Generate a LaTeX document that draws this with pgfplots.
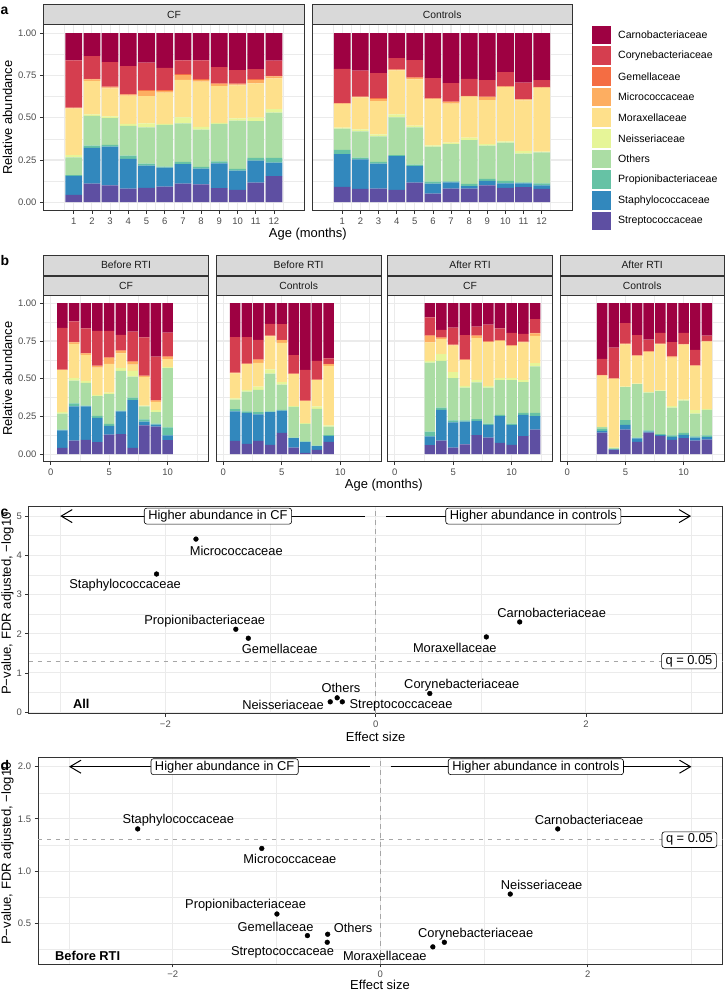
\documentclass[border=0pt]{standalone}
\usepackage{fontspec}
\setmainfont{Liberation Sans}
\usepackage{pgfplots}
\pgfplotsset{compat=1.18}
\usepackage{pgfplotstable}
\usetikzlibrary{arrows.meta}
\definecolor{cK}{HTML}{9E0142}
\definecolor{cC}{HTML}{D53E4F}
\definecolor{cG}{HTML}{F46D43}
\definecolor{cMi}{HTML}{FDAE61}
\definecolor{cM}{HTML}{FEE08B}
\definecolor{cN}{HTML}{E6F598}
\definecolor{cO}{HTML}{ABDDA4}
\definecolor{cP}{HTML}{66C2A5}
\definecolor{cSt}{HTML}{3288BD}
\definecolor{cS}{HTML}{5E4FA2}
\definecolor{gray20}{HTML}{333333}
\definecolor{gray30}{HTML}{4D4D4D}
\definecolor{gray92}{HTML}{EBEBEB}
\definecolor{gray85}{HTML}{D9D9D9}
\definecolor{gray10}{HTML}{1A1A1A}
\definecolor{dashg}{HTML}{A6A6A6}
\newcommand\fs[1]{\fontsize{#1}{#1}\selectfont}

% cumulative tops: s=Strepto, st=Staphylo, p=Propioni, o=Others, n=Neisseria, m=Moraxella, mi=Micrococc, g=Gemella, c=Coryne, k=Carno
\pgfplotstableread{
x s st p o n m mi g c k
1 .043 .156 .161 .266 .278 .555 .557 .559 .839 1
2 .110 .321 .335 .510 .520 .718 .726 .730 .864 1
3 .100 .329 .339 .498 .508 .673 .679 .683 .829 1
4 .081 .256 .276 .451 .463 .630 .636 .640 .805 1
5 .085 .217 .228 .443 .467 .628 .659 .663 .825 1
6 .093 .205 .211 .457 .463 .648 .659 .663 .795 1
7 .110 .226 .238 .467 .502 .724 .752 .758 .839 1
8 .106 .199 .209 .429 .445 .713 .722 .728 .839 1
9 .083 .230 .242 .463 .469 .687 .699 .703 .799 1
10 .073 .187 .197 .482 .496 .691 .697 .701 .781 1
11 .116 .246 .262 .480 .500 .703 .722 .728 .787 1
12 .154 .234 .262 .530 .551 .732 .744 .748 .837 1
}\aCF
\pgfplotstableread{
x s st p o n m mi g c k
1 .091 .285 .309 .435 .441 .581 .584 .586 .789 1
2 .079 .254 .264 .419 .431 .620 .623 .625 .778 1
3 .081 .228 .238 .390 .402 .598 .612 .615 .764 1
4 .073 .272 .278 .502 .520 .780 .783 .785 .852 1
5 .116 .213 .222 .443 .453 .726 .736 .738 .841 1
6 .051 .110 .122 .329 .337 .610 .613 .615 .734 1
7 .081 .118 .124 .344 .352 .583 .593 .595 .705 1
8 .081 .096 .108 .368 .382 .624 .627 .629 .730 1
9 .100 .126 .138 .335 .343 .604 .622 .624 .722 1
10 .085 .112 .126 .352 .360 .681 .684 .686 .770 1
11 .089 .112 .118 .287 .303 .602 .608 .610 .707 1
12 .079 .100 .112 .295 .299 .677 .680 .682 .722 1
}\aCo
\pgfplotstableread{
x s st p o n m mi g c k
1 .042 .157 .163 .269 .280 .556 .558 .560 .837 1
2 .090 .316 .336 .488 .503 .731 .740 .744 .879 1
3 .095 .316 .322 .472 .486 .658 .667 .670 .834 1
4 .079 .240 .254 .384 .393 .574 .583 .586 .817 1
5 .130 .188 .200 .397 .408 .598 .638 .641 .817 1
6 .132 .283 .289 .552 .570 .667 .684 .687 .790 1
7 .042 .358 .375 .514 .552 .594 .611 .614 .812 1
8 .190 .216 .230 .316 .322 .512 .517 .520 .773 1
9 .183 .196 .203 .278 .291 .347 .355 .358 .647 1
10 .093 .124 .177 .570 .578 .629 .645 .648 .806 1
}\bBCF
\pgfplotstableread{
x s st p o n m mi g c k
1 .088 .283 .298 .362 .369 .536 .538 .540 .775 1
2 .068 .274 .283 .415 .426 .596 .598 .600 .775 1
3 .088 .263 .278 .426 .448 .605 .625 .628 .757 1
4 .062 .278 .283 .534 .561 .781 .783 .785 .863 1
5 .141 .289 .294 .461 .477 .737 .755 .758 .861 1
6 .044 .106 .110 .313 .318 .530 .532 .534 .656 1
7 .009 .079 .084 .200 .205 .351 .353 .355 .558 1
8 .029 .053 .057 .300 .316 .490 .492 .494 .618 1
9 .082 .119 .126 .183 .190 .585 .596 .599 .634 1
}\bBCo
\pgfplotstableread{
x s st p o n m mi g c k
3 .060 .117 .150 .607 .618 .740 .784 .787 .907 1
4 .090 .294 .309 .618 .662 .762 .770 .773 .823 1
5 .044 .210 .223 .503 .543 .720 .722 .725 .839 1
6 .064 .216 .223 .441 .453 .623 .625 .628 .788 1
7 .126 .221 .232 .475 .492 .768 .784 .787 .845 1
8 .110 .194 .203 .441 .453 .742 .744 .747 .859 1
9 .075 .252 .260 .490 .503 .751 .753 .756 .834 1
10 .062 .192 .203 .490 .503 .717 .719 .722 .804 1
11 .119 .260 .274 .477 .490 .740 .742 .745 .797 1
12 .163 .252 .274 .581 .603 .784 .801 .804 .894 1
}\bACF
\pgfplotstableread{
x s st p o n m mi g c k
3 .143 .155 .168 .179 .181 .521 .523 .525 .631 1
4 .028 .031 .034 .041 .044 .498 .500 .502 .706 1
5 .163 .194 .225 .444 .448 .728 .730 .732 .868 1
6 .082 .104 .110 .464 .468 .651 .653 .655 .788 1
7 .143 .150 .157 .408 .413 .678 .680 .682 .759 1
8 .121 .126 .132 .417 .422 .728 .730 .732 .804 1
9 .095 .115 .124 .309 .318 .640 .647 .650 .742 1
10 .106 .128 .141 .355 .362 .726 .728 .730 .804 1
11 .090 .110 .117 .269 .291 .585 .587 .589 .691 1
12 .097 .113 .124 .294 .300 .746 .748 .750 .786 1
}\bACo

% stacked segments, bottom to top (heights = differences of the cumulative tops)
\newcommand\stack[1]{%
\addplot[fill=cS,draw=none] table[x=x,y=s]{#1};
\addplot[fill=cSt,draw=none] table[x=x,y expr=\thisrow{st}-\thisrow{s}]{#1};
\addplot[fill=cP,draw=none] table[x=x,y expr=\thisrow{p}-\thisrow{st}]{#1};
\addplot[fill=cO,draw=none] table[x=x,y expr=\thisrow{o}-\thisrow{p}]{#1};
\addplot[fill=cN,draw=none] table[x=x,y expr=\thisrow{n}-\thisrow{o}]{#1};
\addplot[fill=cM,draw=none] table[x=x,y expr=\thisrow{m}-\thisrow{n}]{#1};
\addplot[fill=cMi,draw=none] table[x=x,y expr=\thisrow{mi}-\thisrow{m}]{#1};
\addplot[fill=cG,draw=none] table[x=x,y expr=\thisrow{g}-\thisrow{mi}]{#1};
\addplot[fill=cC,draw=none] table[x=x,y expr=\thisrow{c}-\thisrow{g}]{#1};
\addplot[fill=cK,draw=none] table[x=x,y expr=\thisrow{k}-\thisrow{c}]{#1};
}

\tikzset{
 lab/.style={font=\fs{12.9}, inner sep=0pt},
 lbox/.style={font=\fs{12.9}, draw=black, line width=0.6bp, rounded corners=2.5bp,
  fill=white, inner xsep=4bp, inner ysep=2bp},
 dsh/.style={dashg, line width=0.9bp, dash pattern=on 4.5bp off 4.5bp},
 arr/.style={black, line width=1bp, -{Straight Barb[length=11bp,width=13bp]}},
}
\pgfplotsset{
 gg/.style={
  scale only axis, anchor=south west,
  axis line style={draw=gray20, line width=0.8bp},
  grid=both,
  major grid style={draw=gray92, line width=1.1bp},
  minor grid style={draw=gray92, line width=0.55bp},
  tick align=outside, xtick pos=left, ytick pos=left,
  major tick length=3.3bp, minor tick length=0pt,
  tick style={draw=gray20, line width=0.8bp},
  tick label style={font=\fs{9.5}, text=gray30},
  /pgf/number format/assume math mode=true,
  clip mode=individual,
 },
 barax/.style={gg, ybar stacked, ymin=-0.05, ymax=1.05,
  ytick={0,0.25,0.5,0.75,1}, yticklabels={0.00,0.25,0.50,0.75,1.00},
  minor ytick={0.125,0.375,0.625,0.875}},
 noy/.style={yticklabels={}, ytick style={draw=none}},
 bpan/.style={barax, width=165.3bp, height=166bp, bar width=0.9,
  xmin=-0.63, xmax=13.5, xtick={0,5,10}, minor xtick={2.5,7.5,12.5}},
 vol/.style={gg, xmin=-3.3, xmax=3.3, xtick={-2,0,2}, xticklabels={−2,0,2},
  minor xtick={-3,-1,1,3}},
}

\begin{document}
\begin{tikzpicture}
\useasboundingbox (0,0) rectangle (725bp,993bp);

% ---------- panel a ----------
\begin{axis}[barax, at={(43.3bp,782.3bp)}, width=261.4bp, height=186bp, bar width=0.92,
  xmin=-0.67, xmax=13.69, xtick={1,...,12}, minor xtick={0.5,1.5,...,12.5}]
\stack{\aCF}
\end{axis}
\begin{axis}[barax, noy, at={(312bp,782.3bp)}, width=260.3bp, height=186bp, bar width=0.92,
  xmin=-0.67, xmax=13.69, xtick={1,...,12}, minor xtick={0.5,1.5,...,12.5}]
\stack{\aCo}
\end{axis}

% ---------- panel b ----------
\begin{axis}[bpan, at={(43.3bp,531.3bp)}]
\stack{\bBCF}
\end{axis}
\begin{axis}[bpan, noy, at={(216bp,531.3bp)}]
\stack{\bBCo}
\end{axis}
\begin{axis}[bpan, noy, at={(387.3bp,531.3bp)}]
\stack{\bACF}
\end{axis}
\begin{axis}[bpan, noy, at={(560bp,531.3bp)}, width=164.3bp]
\stack{\bACo}
\end{axis}

% ---------- panel c ----------
\begin{axis}[vol, at={(28.7bp,279.3bp)}, width=693.9bp, height=207bp,
  ymin=-0.04, ymax=5.24, ytick={0,1,2,3,4,5}, minor ytick={0.5,1.5,2.5,3.5,4.5}]
\addplot[dsh] coordinates {(-3.3,1.301) (3.3,1.301)};
\addplot[dsh] coordinates {(0,-0.04) (0,5.24)};
\addplot[arr] coordinates {(-0.1,5) (-3,5)};
\addplot[arr] coordinates {(0.1,5) (3,5)};
\addplot[only marks, mark=*, mark size=2.4bp, black] coordinates {
(-1.709,4.414) (-2.084,3.523) (-1.330,2.114) (-1.211,1.885) (1.370,2.300)
(1.053,1.918) (0.515,0.475) (-0.366,0.365) (-0.432,0.263) (-0.317,0.263)};
\node[lbox] at (axis cs:-1.5,5) {Higher abundance in CF};
\node[lbox] at (axis cs:1.5,5) {Higher abundance in controls};
\node[lbox] at (axis cs:2.98,1.301) {q = 0.05};
\node[lab] at (axis cs:-1.326,4.10) {Micrococcaceae};
\node[lab] at (axis cs:-2.383,3.25) {Staphylococcaceae};
\node[lab] at (axis cs:-1.626,2.326) {Propionibacteriaceae};
\node[lab] at (axis cs:-0.912,1.62) {Gemellaceae};
\node[lab] at (axis cs:1.674,2.53) {Carnobacteriaceae};
\node[lab] at (axis cs:0.753,1.64) {Moraxellaceae};
\node[lab] at (axis cs:0.819,0.688) {Corynebacteriaceae};
\node[lab] at (axis cs:-0.33,0.628) {Others};
\node[lab] at (axis cs:-0.881,0.178) {Neisseriaceae};
\node[lab] at (axis cs:0.242,0.178) {Streptococcaceae};
\node[lab, font=\bfseries\fs{12.9}] at (axis cs:-2.80,0.22) {All};
\end{axis}

% ---------- panel d ----------
\begin{axis}[vol, at={(37.9bp,29bp)}, width=684.7bp, height=206.7bp,
  ymin=0.11, ymax=2.09, ytick={0.5,1,1.5,2}, yticklabels={0.5,1.0,1.5,2.0},
  minor ytick={0.25,0.75,1.25,1.75}]
\addplot[dsh] coordinates {(-3.3,1.301) (3.3,1.301)};
\addplot[dsh] coordinates {(0,0.11) (0,2.09)};
\addplot[arr] coordinates {(-0.1,2) (-3,2)};
\addplot[arr] coordinates {(0.1,2) (3,2)};
\addplot[only marks, mark=*, mark size=2.4bp, black] coordinates {
(-2.338,1.404) (1.711,1.404) (-1.142,1.217) (1.253,0.780) (-0.996,0.589)
(-0.702,0.382) (-0.507,0.395) (-0.511,0.318) (0.618,0.318) (0.507,0.274)};
\node[lbox] at (axis cs:-1.5,2) {Higher abundance in CF};
\node[lbox] at (axis cs:1.5,2) {Higher abundance in controls};
\node[lbox] at (axis cs:2.98,1.301) {q = 0.05};
\node[lab] at (axis cs:-1.947,1.49) {Staphylococcaceae};
\node[lab] at (axis cs:2.013,1.49) {Carnobacteriaceae};
\node[lab] at (axis cs:-0.871,1.115) {Micrococcaceae};
\node[lab] at (axis cs:1.556,0.863) {Neisseriaceae};
\node[lab] at (axis cs:-1.298,0.672) {Propionibacteriaceae};
\node[lab] at (axis cs:-1.009,0.465) {Gemellaceae};
\node[lab] at (axis cs:-0.262,0.455) {Others};
\node[lab] at (axis cs:-0.942,0.223) {Streptococcaceae};
\node[lab] at (axis cs:0.92,0.40) {Corynebacteriaceae};
\node[lab] at (axis cs:0.044,0.185) {Moraxellaceae};
\node[lab, font=\bfseries\fs{12.9}] at (axis cs:-2.82,0.19) {Before RTI};
\end{axis}

% ---------- annotations ----------
\begin{scope}[x=1bp,y=1bp]
% strips a
\foreach \xa/\xb/\t in {43.3/304.7/CF, 312/572.3/Controls} {
  \draw[gray20, line width=0.8bp, fill=gray85] (\xa,968.3) rectangle (\xb,988.7);
  \node[font=\fs{10.4}, text=gray10] at ({(\xa+\xb)/2},978.5) {\t};
}
% strips b
\foreach \xa/\xb/\ta/\tb in {43.3/208.7/Before RTI/CF, 216/381.3/Before RTI/Controls,
   387.3/552.7/After RTI/CF, 560/724.3/After RTI/Controls} {
  \draw[gray20, line width=0.8bp, fill=gray85] (\xa,717.7) rectangle (\xb,738);
  \node[font=\fs{10.4}, text=gray10] at ({(\xa+\xb)/2},727.8) {\ta};
  \draw[gray20, line width=0.8bp, fill=gray85] (\xa,697.3) rectangle (\xb,716.7);
  \node[font=\fs{10.4}, text=gray10] at ({(\xa+\xb)/2},707) {\tb};
}
% legend
\foreach \col/\name [count=\i from 0] in {cK/Carnobacteriaceae, cC/Corynebacteriaceae,
   cG/Gemellaceae, cMi/Micrococcaceae, cM/Moraxellaceae, cN/Neisseriaceae,
   cO/Others, cP/Propionibacteriaceae, cSt/Staphylococcaceae, cS/Streptococcaceae} {
  \fill[\col] (592.3,{993-25.7-20.67*\i}) rectangle (611,{993-44.4-20.67*\i});
  \node[anchor=west, font=\fs{10.6}, inner sep=0pt] at (618,{993-35.05-20.67*\i}) {\name};
}
% axis titles
\node[rotate=90, font=\fs{13}] at (7.5,875.3) {Relative abundance};
\node[rotate=90, font=\fs{13}] at (7.5,614.3) {Relative abundance};
\node[font=\fs{13}] at (307.8,758.5) {Age (months)};
\node[font=\fs{13}] at (383.8,508) {Age (months)};
\node[font=\fs{13}] at (375.7,256.3) {Effect size};
\node[font=\fs{13}] at (380,8) {Effect size};
\node[rotate=90, anchor=east, font=\fs{13.2}, inner sep=0pt] at (7.5,481) {P−value, FDR adjusted, −log10};
\node[rotate=90, anchor=east, font=\fs{13.2}, inner sep=0pt] at (7.5,231) {P−value, FDR adjusted, −log10};
% panel letters
\node[anchor=base west, font=\bfseries\fs{14}, inner sep=0pt] at (0.5,978.5) {a};
\node[anchor=base west, font=\bfseries\fs{14}, inner sep=0pt] at (0.5,727) {b};
\node[anchor=base west, font=\bfseries\fs{14}, inner sep=0pt] at (0.5,476.3) {c};
\node[anchor=base west, font=\bfseries\fs{14}, inner sep=0pt] at (0.5,223) {d};
\end{scope}
\end{tikzpicture}
\end{document}
